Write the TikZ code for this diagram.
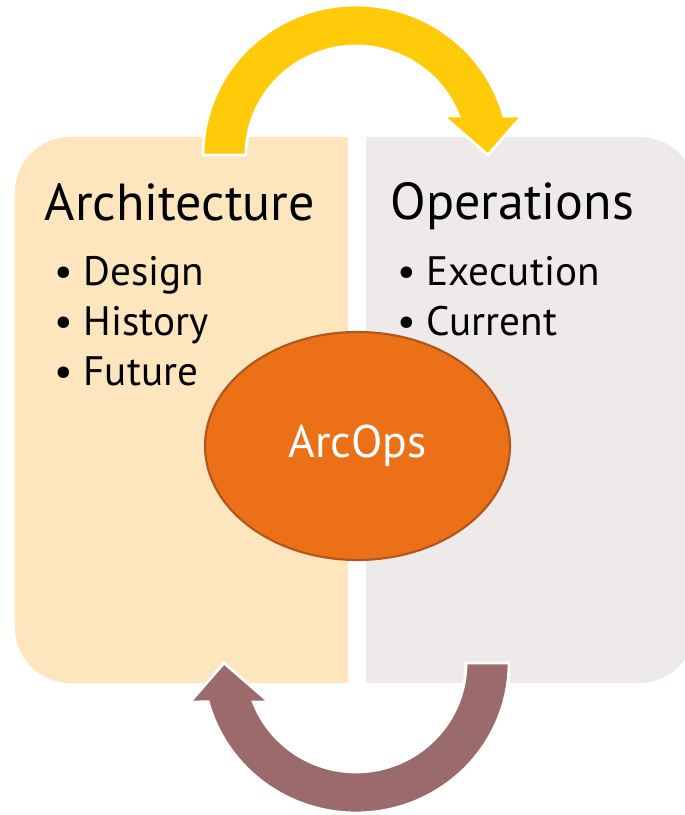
\documentclass[tikz,border=0pt]{standalone}
\usepackage{fontspec}
\setmainfont{PT Sans}
\usetikzlibrary{shapes.geometric}

\definecolor{archfill}{HTML}{FDE6BE}
\definecolor{opsfill}{HTML}{EEEAE9}
\definecolor{forwardgold}{HTML}{FFCA08}
\definecolor{backmauve}{HTML}{9B6A6A}
\definecolor{hubfill}{HTML}{EB7018}
\definecolor{hubline}{HTML}{B0561C}

\newcommand{\bulletline}[1]{\makebox[2.9mm][l]{\textbullet}#1}

\tikzset{
  panel title/.style={anchor=base west, inner sep=0pt, font=\fontsize{14.8}{17}\selectfont},
  panel item/.style={anchor=base west, inner sep=0pt, font=\fontsize{11.7}{14}\selectfont},
  cycle arrow/.style={draw=white, line width=0.8pt, line join=miter},
  hub/.style={ellipse, draw=hubline, line width=0.6pt, fill=hubfill, text=white,
    minimum width=3.05cm, minimum height=2.28cm, inner sep=0pt, font=\fontsize{13}{15}\selectfont}
}

\begin{document}
\begin{tikzpicture}
\useasboundingbox (0,0) rectangle (6.85,8.15);

% the two panels, rounded on the outer side only
\begin{scope}
\clip (0,0) rectangle (3.48,8.15);
\fill[archfill, rounded corners=5.5mm] (0.15,1.32) rectangle (4.2,6.78);
\end{scope}
\begin{scope}
\clip (3.66,0) rectangle (6.85,8.15);
\fill[opsfill, rounded corners=5.5mm] (2.9,1.32) rectangle (6.95,6.78);
\end{scope}

% bent arrows
\filldraw[cycle arrow, fill=forwardgold]
  (2.03,6.60) arc[start angle=180, end angle=15, x radius=1.53, y radius=1.50]
  -- (5.22,6.99) -- (4.88,6.60) -- (4.43,6.99)
  -- (4.587,6.99) arc[start angle=21, end angle=180, x radius=1.10, y radius=1.09]
  -- cycle;
\filldraw[cycle arrow, fill=backmauve]
  (5.09,1.52) arc[start angle=0, end angle=-165, x radius=1.53, y radius=1.50]
  -- (1.90,1.13) -- (2.24,1.52) -- (2.69,1.13)
  -- (2.533,1.13) arc[start angle=201, end angle=360, x radius=1.10, y radius=1.09]
  -- cycle;

% centre
\node[hub] (arcops) at (3.575,3.69) {ArcOps};

% texts
\node[panel title] (architecture) at (0.44,5.94) {Architecture};
\node[panel item] (design) at (0.54,5.29) {\bulletline{Design}};
\node[panel item] (history) at (0.54,4.79) {\bulletline{History}};
\node[panel item] (future) at (0.54,4.29) {\bulletline{Future}};

\node[panel title] (operations) at (3.90,5.95) {Operations};
\node[panel item] (execution) at (3.97,5.29) {\bulletline{Execution}};
\node[panel item] (current) at (3.97,4.79) {\bulletline{Current}};

\end{tikzpicture}
\end{document}
